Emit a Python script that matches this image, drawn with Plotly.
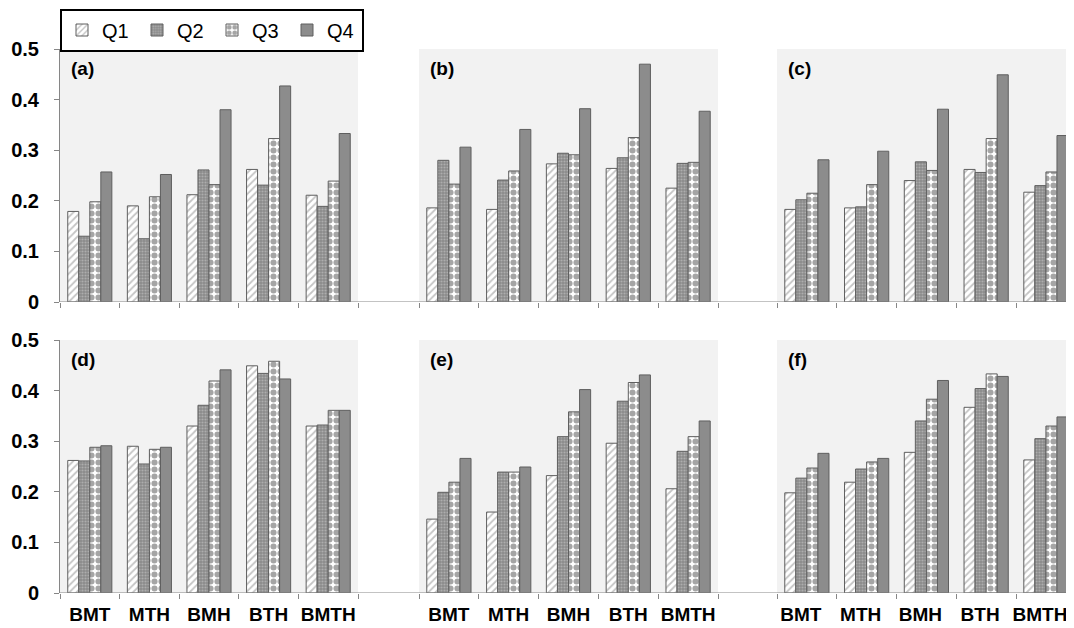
import plotly.graph_objects as go
from plotly.subplots import make_subplots

categories = ["BMT", "MTH", "BMH", "BTH", "BMTH"]
series_names = ["Q1", "Q2", "Q3", "Q4"]
panel_labels = ["(a)", "(b)", "(c)", "(d)", "(e)", "(f)"]
y_ticks = [0, 0.1, 0.2, 0.3, 0.4, 0.5]
y_tick_text = ["0", "0.1", "0.2", "0.3", "0.4", "0.5"]

# values per panel: Q1, Q2, Q3, Q4 over categories
panel_a = [[0.179, 0.190, 0.212, 0.262, 0.211],
           [0.130, 0.125, 0.261, 0.231, 0.189],
           [0.198, 0.208, 0.232, 0.323, 0.239],
           [0.257, 0.252, 0.380, 0.427, 0.333]]
panel_b = [[0.186, 0.183, 0.273, 0.264, 0.225],
           [0.280, 0.241, 0.294, 0.285, 0.274],
           [0.233, 0.259, 0.291, 0.325, 0.276],
           [0.306, 0.341, 0.382, 0.470, 0.377]]
panel_c = [[0.183, 0.186, 0.240, 0.262, 0.217],
           [0.202, 0.188, 0.277, 0.256, 0.230],
           [0.215, 0.232, 0.260, 0.323, 0.257],
           [0.281, 0.298, 0.381, 0.449, 0.329]]
panel_d = [[0.262, 0.290, 0.330, 0.449, 0.330],
           [0.261, 0.255, 0.371, 0.434, 0.332],
           [0.288, 0.284, 0.419, 0.458, 0.361],
           [0.291, 0.288, 0.441, 0.423, 0.361]]
panel_e = [[0.146, 0.160, 0.232, 0.296, 0.206],
           [0.199, 0.239, 0.309, 0.379, 0.280],
           [0.219, 0.239, 0.358, 0.416, 0.309],
           [0.266, 0.249, 0.402, 0.431, 0.340]]
panel_f = [[0.198, 0.219, 0.278, 0.367, 0.263],
           [0.227, 0.245, 0.340, 0.404, 0.305],
           [0.247, 0.259, 0.383, 0.433, 0.330],
           [0.276, 0.266, 0.420, 0.428, 0.348]]
panels = [panel_a, panel_b, panel_c, panel_d, panel_e, panel_f]

OUTLINE = "#5f5f5f"
styles = [
    dict(shape="/", fgcolor="#8a8a8a", bgcolor="#ffffff", size=5, solidity=0.35),
    dict(shape=".", fgcolor="#cfcfcf", bgcolor="#8a8a8a", size=3, solidity=0.4),
    dict(shape=".", fgcolor="#4c4c4c", bgcolor="#ffffff", size=7, solidity=0.6),
    dict(shape="", fgcolor="#8c8c8c", bgcolor="#8c8c8c"),
]
fills = ["#ffffff", "#8a8a8a", "#ffffff", "#8c8c8c"]

# the page adds an 8px body margin, so the figure is sized/offset to compensate
W, H = 1066, 620
ML, MR, MT, MB = 52, 0, 41, 35
PW = W - ML - MR
PH = H - MT - MB
FONT = "Liberation Sans, Arial"

fig = make_subplots(rows=2, cols=3)

for p, data in enumerate(panels):
    r = p // 3 + 1
    c = p % 3 + 1
    for s, name in enumerate(series_names):
        fig.add_trace(go.Bar(
            x=categories, y=data[s], name=name,
            showlegend=(p == 0),
            marker=dict(color=fills[s], pattern=styles[s],
                        line=dict(color=OUTLINE, width=1)),
        ), row=r, col=c)

# domains in pixels relative to plot-area left
x_dom_px = [(0, 298), (359, 658), (717, 1014)]
x_ranges = [[-0.5, 4.5], [-0.5, 4.5], [-0.5, 4.47]]
row_dom = [((593 - 302) / PH, 1.0), (0.0, (593 - 340) / PH)]

axis_color = "#868686"
for p in range(6):
    r = p // 3
    c = p % 3
    xa = "xaxis" if p == 0 else f"xaxis{p + 1}"
    ya = "yaxis" if p == 0 else f"yaxis{p + 1}"
    fig.layout[xa].update(
        domain=[x_dom_px[c][0] / PW, x_dom_px[c][1] / PW],
        range=x_ranges[c], type="category",
        showgrid=False, zeroline=False, showline=False,
        ticks="outside", tickson="boundaries", ticklen=5, tickcolor=axis_color,
        showticklabels=(r == 1), ticklabelstandoff=8, tickangle=0,
        ticklabelshift=(-6 if c == 2 else 0),
        tickfont=dict(family=FONT, size=19, color="black", weight="bold"),
    )
    fig.layout[ya].update(
        domain=list(row_dom[r]), range=[0, 0.5],
        showgrid=False, zeroline=False,
        showline=(c == 0), linecolor=axis_color, linewidth=1,
        ticks="outside" if c == 0 else "", ticklen=5, tickcolor=axis_color,
        tickvals=y_ticks, ticktext=y_tick_text,
        showticklabels=(c == 0), ticklabelstandoff=11,
        tickfont=dict(family=FONT, size=20, color="black", weight="bold"),
    )
    fig.add_annotation(
        text=panel_labels[p], xref=f"x{'' if p == 0 else p + 1} domain",
        yref=f"y{'' if p == 0 else p + 1} domain",
        x=9 / 298, y=1 - 19 / 253, xanchor="left", yanchor="middle",
        showarrow=False,
        font=dict(family=FONT, size=19, color="black", weight="bold"),
    )

# continuous horizontal axis line across each row
for yref in ["y", "y4"]:
    fig.add_shape(type="line", xref="paper", yref=yref, x0=0, x1=1, y0=0, y1=0,
                  line=dict(color=axis_color, width=1), layer="above")

fig.update_layout(
    width=W, height=H,
    margin=dict(l=ML, r=MR, t=MT, b=MB, autoexpand=False),
    paper_bgcolor="white", plot_bgcolor="#f2f2f2",
    barmode="group", bargap=0.26, bargroupgap=0,
    font=dict(family=FONT, color="black"),
    legend=dict(
        orientation="h", x=0, xanchor="left",
        yref="container", y=1 - 0.5 / H, yanchor="top",
        bordercolor="black", borderwidth=2, bgcolor="white",
        font=dict(family=FONT, size=20, color="black"),
        entrywidth=30, entrywidthmode="pixels",
        tracegroupgap=0, itemwidth=30,
    ),
)

fig.write_html("out.html")
